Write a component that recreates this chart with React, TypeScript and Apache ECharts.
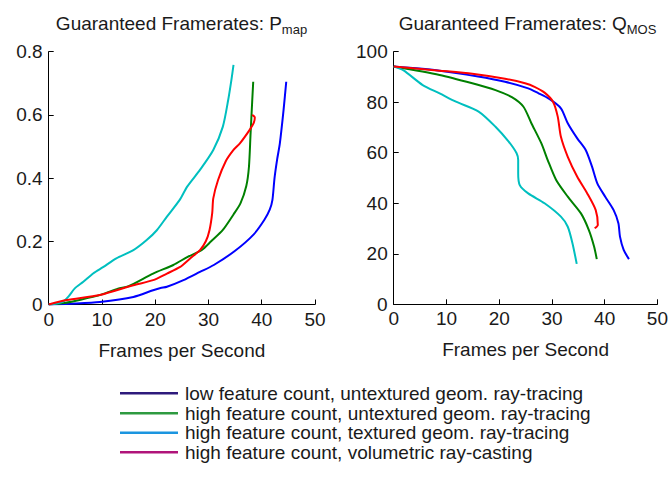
import React, { useEffect, useRef } from "react";
import * as echarts from "echarts";

const seriesNames = [
  "low feature count, untextured geom. ray-tracing",
  "high feature count, untextured geom. ray-tracing",
  "high feature count, textured geom. ray-tracing",
  "high feature count, volumetric ray-casting",
];
const lineColors = ["#0000ff", "#008000", "#00bfbf", "#ff0000"];
const legendColors = ["#2e1a7c", "#2e9a40", "#1b95e0", "#b0147a"];

const titleMain = ["Guaranteed Framerates: P", "Guaranteed Framerates: Q"];
const titleSub = ["map", "MOS"];
const xAxisName = "Frames per Second";

// P_map panel: [fps, value]
const pmapLow = [
  [0, 0], [5, 0.003], [9.6, 0.008], [15.9, 0.024], [19.6, 0.045], [21, 0.052], [22.2, 0.056],
  [25.3, 0.077], [28.4, 0.103], [31, 0.125], [35, 0.17], [38.5, 0.222], [40.5, 0.268],
  [41.5, 0.3], [42, 0.33], [42.4, 0.4], [42.9, 0.46], [43.4, 0.51], [44.1, 0.616], [44.6, 0.705],
];
const pmapHighUntex = [
  [0, 0], [3, 0.005], [6, 0.015], [10, 0.032], [13, 0.05], [15, 0.058], [19.6, 0.098],
  [23.4, 0.125], [26, 0.15], [28.7, 0.172], [30.5, 0.2], [32.7, 0.236], [34.7, 0.285],
  [36, 0.32], [37.1, 0.375], [37.6, 0.436], [37.9, 0.54], [38.2, 0.64], [38.4, 0.705],
];
const pmapHighTex = [
  [0, 0], [1.5, 0.003], [2.7, 0.009], [3.7, 0.025], [4.9, 0.051], [6.5, 0.072], [8.4, 0.099],
  [10.2, 0.118], [12.7, 0.146], [15.9, 0.172], [18.4, 0.204], [20.3, 0.235], [22.2, 0.278],
  [24.6, 0.331], [26, 0.373], [28.4, 0.426], [30.9, 0.489], [32.7, 0.563], [33.7, 0.647],
  [34.3, 0.71], [34.7, 0.758],
];
const pmapVol = [
  [0, 0], [3.4, 0.014], [9.6, 0.03], [15.9, 0.061], [19.6, 0.077], [22.2, 0.098], [24.6, 0.118],
  [26.5, 0.145], [28.4, 0.172], [29.5, 0.2], [30.2, 0.236], [30.7, 0.289], [30.9, 0.336],
  [31.8, 0.394], [33.2, 0.452], [34.7, 0.489], [35.9, 0.51], [37.7, 0.552], [38.5, 0.575],
  [38.7, 0.592], [38.2, 0.6],
];

// Q_MOS panel: [fps, value]
const qmosLow = [
  [0, 94.1], [8.7, 92.5], [16, 90.2], [21.1, 88.1], [25.5, 85.5], [27.4, 83.6], [29.5, 81.3],
  [31.7, 77.6], [33, 71.7], [34.8, 65.7], [36.4, 61.1], [37.6, 54.5], [38.6, 47.9],
  [40.1, 42.6], [41.7, 37.3], [42.6, 32.1], [42.9, 26.8], [43.6, 21.5], [44.6, 17.9],
];
const qmosHighUntex = [
  [0, 94.1], [8.7, 90.8], [14.9, 87.5], [19.3, 84.8], [22.4, 82], [24.6, 78.2], [26.1, 71.7],
  [28, 63.7], [29.2, 57.1], [30.8, 49.2], [33, 42.6], [35.5, 36], [37, 29.4], [38, 22.8],
  [38.5, 17.9],
];
const qmosHighTex = [
  [0, 94.1], [1.8, 92.7], [5.5, 86.8], [8.7, 83.5], [11.8, 80.2], [16.1, 76.3], [19.3, 70.3],
  [21.8, 64.4], [23.3, 59.8], [23.6, 57.1], [23.6, 51.9], [23.9, 47.2], [25.5, 43.9],
  [28.6, 40], [31.7, 34.7], [33, 30.7], [33.9, 24.1], [34.7, 16],
];
const qmosVol = [
  [0, 94.1], [8.7, 92.5], [14.9, 91.3], [21.1, 89.3], [24.9, 87.5], [26.7, 86.1], [28.6, 83.8],
  [30.2, 80.2], [31.1, 74.3], [31.7, 66.3], [33, 58.4], [34.8, 50.5], [36.7, 43.9],
  [38.3, 37.3], [38.7, 31.4], [38.1, 30.1],
];

const pmapData = [pmapLow, pmapHighUntex, pmapHighTex, pmapVol];
const qmosData = [qmosLow, qmosHighUntex, qmosHighTex, qmosVol];

const FONT = "'Liberation Sans', Arial, Helvetica, sans-serif";
const TEXT = "#1a1a1a";

function xAxisCfg(gridIndex: number) {
  return {
    type: "value",
    gridIndex,
    min: 0,
    max: 50,
    interval: 10,
    axisLine: { show: true, lineStyle: { color: "#000", width: 1 } },
    axisTick: { show: true, inside: true, length: 5, lineStyle: { color: "#000" } },
    axisLabel: { color: TEXT, fontSize: 19, fontFamily: FONT, margin: 5 },
    splitLine: { show: false },
    name: xAxisName,
    nameLocation: "middle",
    nameGap: 36,
    nameTextStyle: { color: TEXT, fontSize: 19, fontFamily: FONT },
  };
}

function yAxisCfg(gridIndex: number, max: number, interval: number) {
  return {
    type: "value",
    gridIndex,
    min: 0,
    max,
    interval,
    axisLine: { show: true, lineStyle: { color: "#000", width: 1 } },
    axisTick: { show: true, inside: true, length: 5, lineStyle: { color: "#000" } },
    axisLabel: { color: TEXT, fontSize: 19, fontFamily: FONT, margin: 6 },
    splitLine: { show: false },
  };
}

export default function App() {
  const ref = useRef<HTMLDivElement>(null);

  useEffect(() => {
    if (!ref.current) return;
    const chart = echarts.init(ref.current, undefined, { renderer: "svg" });

    const series: any[] = [];
    pmapData.forEach((d, i) => {
      series.push({
        type: "line",
        name: seriesNames[i],
        xAxisIndex: 0,
        yAxisIndex: 0,
        data: d,
        symbol: "none",
        smooth: 0.25,
        lineStyle: { color: lineColors[i], width: 2 },
        itemStyle: { color: lineColors[i] },
      });
    });
    qmosData.forEach((d, i) => {
      series.push({
        type: "line",
        name: seriesNames[i],
        xAxisIndex: 1,
        yAxisIndex: 1,
        data: d,
        symbol: "none",
        smooth: 0.25,
        lineStyle: { color: lineColors[i], width: 2 },
        itemStyle: { color: lineColors[i] },
      });
    });

    const titleCenters = [181.5, 527.5];
    const graphics: any[] = titleCenters.map((cx, i) => ({
      type: "text",
      x: cx,
      y: 23,
      style: {
        text: `{a|${titleMain[i]}}{b|${titleSub[i]}}`,
        align: "center",
        verticalAlign: "middle",
        rich: {
          a: { fontSize: 19, fontFamily: FONT, fill: TEXT },
          b: { fontSize: 13, fontFamily: FONT, fill: TEXT, padding: [13, 0, 0, 0] },
        },
      },
    }));

    const legendRows = [393.3, 413.3, 432.7, 452.3];
    seriesNames.forEach((name, i) => {
      graphics.push({
        type: "line",
        shape: { x1: 120, y1: legendRows[i], x2: 178, y2: legendRows[i] },
        style: { stroke: legendColors[i], lineWidth: 2.5 },
      });
      graphics.push({
        type: "text",
        x: 185,
        y: legendRows[i],
        style: {
          text: name,
          fontSize: 19,
          fontFamily: FONT,
          fill: TEXT,
          align: "left",
          verticalAlign: "middle",
        },
      });
    });

    chart.setOption({
      animation: false,
      backgroundColor: "#ffffff",
      textStyle: { fontFamily: FONT },
      grid: [
        { left: 48.7, top: 51.7, width: 266.3, height: 252.8 },
        { left: 393.7, top: 51.7, width: 267.3, height: 252.6 },
      ],
      xAxis: [xAxisCfg(0), xAxisCfg(1)],
      yAxis: [yAxisCfg(0, 0.8, 0.2), yAxisCfg(1, 100, 20)],
      series,
      graphic: graphics,
    });

    return () => chart.dispose();
  }, []);

  return (
    <div
      ref={ref}
      style={{ position: "absolute", left: 0, top: 0, width: 671, height: 491 }}
    />
  );
}
